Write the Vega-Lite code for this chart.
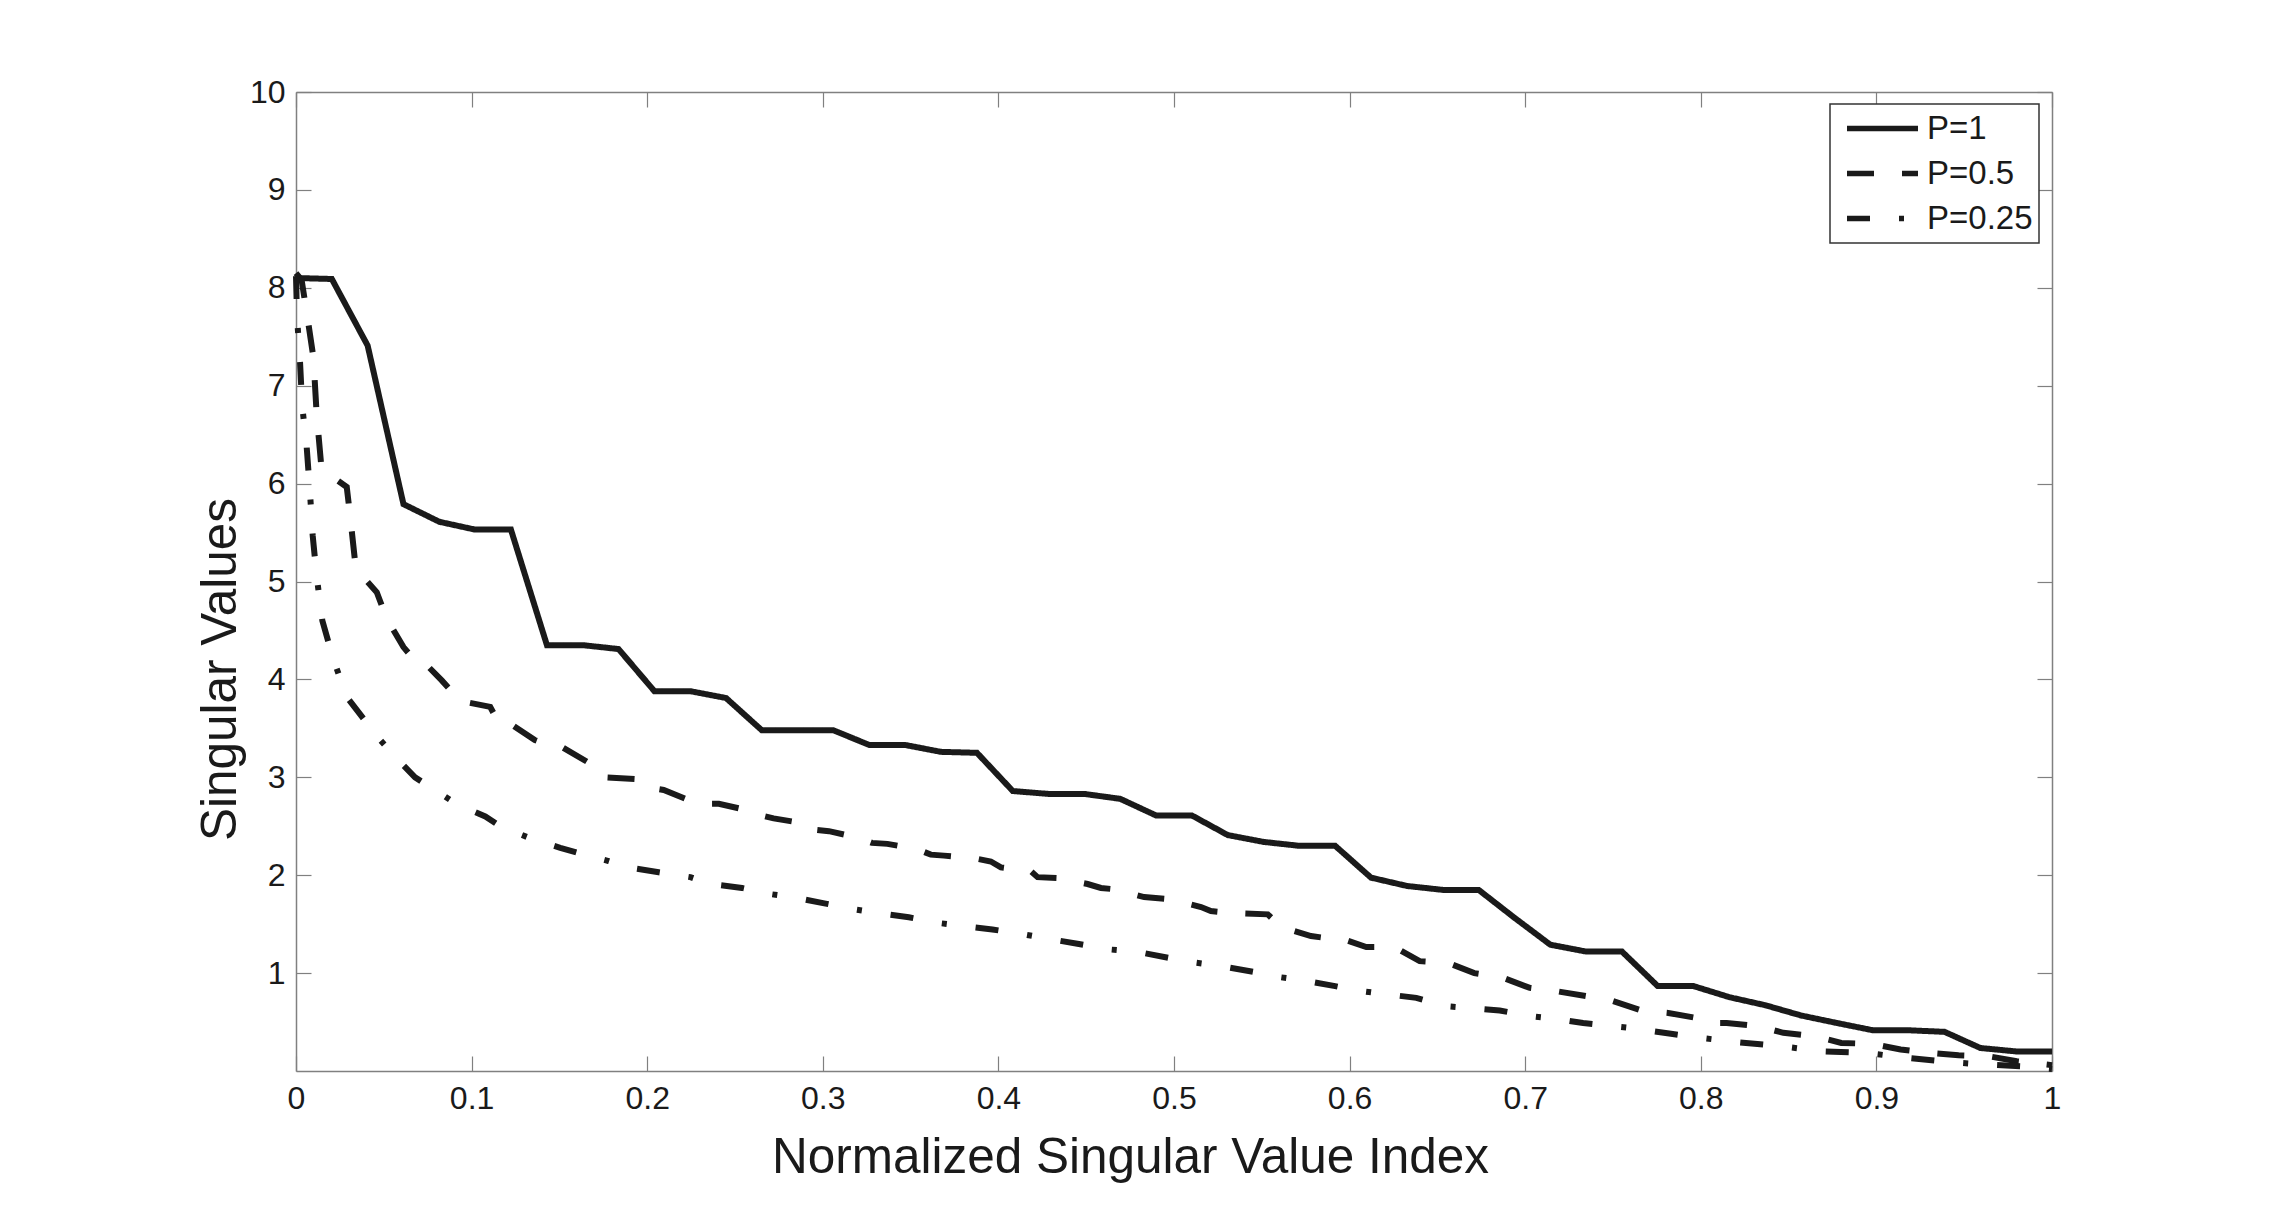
{
  "$schema": "https://vega.github.io/schema/vega-lite/v6.json",
  "width": 1756,
  "height": 979,
  "autosize": {"type": "none"},
  "padding": {"left": 296, "top": 92, "right": 223, "bottom": 138},
  "background": "white",
  "config": {
    "view": {"stroke": null},
    "font": "Liberation Sans",
    "axis": {"grid": false, "labelFont": "Liberation Sans", "titleFont": "Liberation Sans"}
  },
  "datasets": {
    "curves": [
      {"P": "P=1", "x": 0, "y": 8.10},
      {"P": "P=1", "x": 0.0204, "y": 8.09},
      {"P": "P=1", "x": 0.0408, "y": 7.41},
      {"P": "P=1", "x": 0.0612, "y": 5.79},
      {"P": "P=1", "x": 0.0816, "y": 5.61},
      {"P": "P=1", "x": 0.102, "y": 5.53},
      {"P": "P=1", "x": 0.1224, "y": 5.53},
      {"P": "P=1", "x": 0.1429, "y": 4.35},
      {"P": "P=1", "x": 0.1633, "y": 4.35},
      {"P": "P=1", "x": 0.1837, "y": 4.31},
      {"P": "P=1", "x": 0.2041, "y": 3.88},
      {"P": "P=1", "x": 0.2245, "y": 3.88},
      {"P": "P=1", "x": 0.2449, "y": 3.81},
      {"P": "P=1", "x": 0.2653, "y": 3.48},
      {"P": "P=1", "x": 0.2857, "y": 3.48},
      {"P": "P=1", "x": 0.3061, "y": 3.48},
      {"P": "P=1", "x": 0.3265, "y": 3.33},
      {"P": "P=1", "x": 0.3469, "y": 3.33},
      {"P": "P=1", "x": 0.3673, "y": 3.26},
      {"P": "P=1", "x": 0.3878, "y": 3.25},
      {"P": "P=1", "x": 0.4082, "y": 2.86},
      {"P": "P=1", "x": 0.4286, "y": 2.83},
      {"P": "P=1", "x": 0.449, "y": 2.83},
      {"P": "P=1", "x": 0.4694, "y": 2.78},
      {"P": "P=1", "x": 0.4898, "y": 2.61},
      {"P": "P=1", "x": 0.5102, "y": 2.61},
      {"P": "P=1", "x": 0.5306, "y": 2.41},
      {"P": "P=1", "x": 0.551, "y": 2.34},
      {"P": "P=1", "x": 0.5714, "y": 2.30},
      {"P": "P=1", "x": 0.5918, "y": 2.30},
      {"P": "P=1", "x": 0.6122, "y": 1.975},
      {"P": "P=1", "x": 0.6327, "y": 1.89},
      {"P": "P=1", "x": 0.6531, "y": 1.85},
      {"P": "P=1", "x": 0.6735, "y": 1.85},
      {"P": "P=1", "x": 0.6939, "y": 1.565},
      {"P": "P=1", "x": 0.7143, "y": 1.29},
      {"P": "P=1", "x": 0.7347, "y": 1.22},
      {"P": "P=1", "x": 0.7551, "y": 1.22},
      {"P": "P=1", "x": 0.7755, "y": 0.867},
      {"P": "P=1", "x": 0.7959, "y": 0.867},
      {"P": "P=1", "x": 0.8163, "y": 0.754},
      {"P": "P=1", "x": 0.8367, "y": 0.672},
      {"P": "P=1", "x": 0.8571, "y": 0.567},
      {"P": "P=1", "x": 0.8776, "y": 0.49},
      {"P": "P=1", "x": 0.898, "y": 0.416},
      {"P": "P=1", "x": 0.9184, "y": 0.416},
      {"P": "P=1", "x": 0.9388, "y": 0.40},
      {"P": "P=1", "x": 0.9592, "y": 0.235},
      {"P": "P=1", "x": 0.9796, "y": 0.20},
      {"P": "P=1", "x": 1, "y": 0.20},

      {"P": "P=0.5", "x": 0, "y": 8.15},
      {"P": "P=0.5", "x": 0.0032, "y": 8.08},
      {"P": "P=0.5", "x": 0.0065, "y": 7.7},
      {"P": "P=0.5", "x": 0.0099, "y": 7.29},
      {"P": "P=0.5", "x": 0.0118, "y": 6.70},
      {"P": "P=0.5", "x": 0.0146, "y": 6.14},
      {"P": "P=0.5", "x": 0.02, "y": 6.08},
      {"P": "P=0.5", "x": 0.0289, "y": 5.965},
      {"P": "P=0.5", "x": 0.0308, "y": 5.675},
      {"P": "P=0.5", "x": 0.0336, "y": 5.21},
      {"P": "P=0.5", "x": 0.0355, "y": 5.10},
      {"P": "P=0.5", "x": 0.046, "y": 4.89},
      {"P": "P=0.5", "x": 0.0517, "y": 4.62},
      {"P": "P=0.5", "x": 0.0612, "y": 4.33},
      {"P": "P=0.5", "x": 0.0678, "y": 4.19},
      {"P": "P=0.5", "x": 0.0726, "y": 4.18},
      {"P": "P=0.5", "x": 0.083, "y": 3.99},
      {"P": "P=0.5", "x": 0.0935, "y": 3.78},
      {"P": "P=0.5", "x": 0.1106, "y": 3.72},
      {"P": "P=0.5", "x": 0.1153, "y": 3.56},
      {"P": "P=0.5", "x": 0.121, "y": 3.56},
      {"P": "P=0.5", "x": 0.136, "y": 3.38},
      {"P": "P=0.5", "x": 0.1467, "y": 3.31},
      {"P": "P=0.5", "x": 0.1514, "y": 3.31},
      {"P": "P=0.5", "x": 0.1657, "y": 3.16},
      {"P": "P=0.5", "x": 0.1705, "y": 3.135},
      {"P": "P=0.5", "x": 0.176, "y": 3.0},
      {"P": "P=0.5", "x": 0.195, "y": 2.98},
      {"P": "P=0.5", "x": 0.2009, "y": 2.895},
      {"P": "P=0.5", "x": 0.2094, "y": 2.87},
      {"P": "P=0.5", "x": 0.2246, "y": 2.76},
      {"P": "P=0.5", "x": 0.234, "y": 2.73},
      {"P": "P=0.5", "x": 0.2408, "y": 2.73},
      {"P": "P=0.5", "x": 0.2579, "y": 2.66},
      {"P": "P=0.5", "x": 0.2627, "y": 2.62},
      {"P": "P=0.5", "x": 0.272, "y": 2.58},
      {"P": "P=0.5", "x": 0.2892, "y": 2.53},
      {"P": "P=0.5", "x": 0.293, "y": 2.47},
      {"P": "P=0.5", "x": 0.3035, "y": 2.45},
      {"P": "P=0.5", "x": 0.3206, "y": 2.38},
      {"P": "P=0.5", "x": 0.328, "y": 2.33},
      {"P": "P=0.5", "x": 0.3368, "y": 2.32},
      {"P": "P=0.5", "x": 0.3539, "y": 2.265},
      {"P": "P=0.5", "x": 0.3615, "y": 2.21},
      {"P": "P=0.5", "x": 0.369, "y": 2.20},
      {"P": "P=0.5", "x": 0.387, "y": 2.17},
      {"P": "P=0.5", "x": 0.3957, "y": 2.14},
      {"P": "P=0.5", "x": 0.4014, "y": 2.08},
      {"P": "P=0.5", "x": 0.4185, "y": 2.04},
      {"P": "P=0.5", "x": 0.4223, "y": 1.98},
      {"P": "P=0.5", "x": 0.4337, "y": 1.97},
      {"P": "P=0.5", "x": 0.4508, "y": 1.91},
      {"P": "P=0.5", "x": 0.4584, "y": 1.87},
      {"P": "P=0.5", "x": 0.466, "y": 1.856},
      {"P": "P=0.5", "x": 0.483, "y": 1.777},
      {"P": "P=0.5", "x": 0.498, "y": 1.754},
      {"P": "P=0.5", "x": 0.5154, "y": 1.675},
      {"P": "P=0.5", "x": 0.521, "y": 1.634},
      {"P": "P=0.5", "x": 0.5306, "y": 1.617},
      {"P": "P=0.5", "x": 0.5534, "y": 1.60},
      {"P": "P=0.5", "x": 0.561, "y": 1.47},
      {"P": "P=0.5", "x": 0.578, "y": 1.378},
      {"P": "P=0.5", "x": 0.5857, "y": 1.36},
      {"P": "P=0.5", "x": 0.594, "y": 1.36},
      {"P": "P=0.5", "x": 0.6095, "y": 1.266},
      {"P": "P=0.5", "x": 0.6256, "y": 1.266},
      {"P": "P=0.5", "x": 0.6399, "y": 1.122},
      {"P": "P=0.5", "x": 0.656, "y": 1.105},
      {"P": "P=0.5", "x": 0.671, "y": 1.00},
      {"P": "P=0.5", "x": 0.6864, "y": 0.959},
      {"P": "P=0.5", "x": 0.7026, "y": 0.849},
      {"P": "P=0.5", "x": 0.7178, "y": 0.815},
      {"P": "P=0.5", "x": 0.7349, "y": 0.764},
      {"P": "P=0.5", "x": 0.749, "y": 0.72},
      {"P": "P=0.5", "x": 0.7662, "y": 0.618},
      {"P": "P=0.5", "x": 0.7815, "y": 0.593},
      {"P": "P=0.5", "x": 0.7995, "y": 0.536},
      {"P": "P=0.5", "x": 0.8052, "y": 0.49},
      {"P": "P=0.5", "x": 0.8147, "y": 0.49},
      {"P": "P=0.5", "x": 0.8328, "y": 0.457},
      {"P": "P=0.5", "x": 0.847, "y": 0.39},
      {"P": "P=0.5", "x": 0.865, "y": 0.355},
      {"P": "P=0.5", "x": 0.88, "y": 0.287},
      {"P": "P=0.5", "x": 0.898, "y": 0.276},
      {"P": "P=0.5", "x": 0.9138, "y": 0.219},
      {"P": "P=0.5", "x": 0.9306, "y": 0.184},
      {"P": "P=0.5", "x": 0.9468, "y": 0.16},
      {"P": "P=0.5", "x": 0.964, "y": 0.15},
      {"P": "P=0.5", "x": 0.98, "y": 0.10},
      {"P": "P=0.5", "x": 1, "y": 0.06},

      {"P": "P=0.25", "x": 0, "y": 8.12},
      {"P": "P=0.25", "x": 0.0006, "y": 7.7},
      {"P": "P=0.25", "x": 0.0023, "y": 7.24},
      {"P": "P=0.25", "x": 0.0035, "y": 6.8},
      {"P": "P=0.25", "x": 0.0061, "y": 6.37},
      {"P": "P=0.25", "x": 0.008, "y": 5.9},
      {"P": "P=0.25", "x": 0.0095, "y": 5.47},
      {"P": "P=0.25", "x": 0.0118, "y": 5.05},
      {"P": "P=0.25", "x": 0.015, "y": 4.60},
      {"P": "P=0.25", "x": 0.0212, "y": 4.21},
      {"P": "P=0.25", "x": 0.0289, "y": 3.82},
      {"P": "P=0.25", "x": 0.0384, "y": 3.60},
      {"P": "P=0.25", "x": 0.042, "y": 3.55},
      {"P": "P=0.25", "x": 0.046, "y": 3.42},
      {"P": "P=0.25", "x": 0.0564, "y": 3.21},
      {"P": "P=0.25", "x": 0.0678, "y": 3.0},
      {"P": "P=0.25", "x": 0.0764, "y": 2.9},
      {"P": "P=0.25", "x": 0.0912, "y": 2.73},
      {"P": "P=0.25", "x": 0.1078, "y": 2.60},
      {"P": "P=0.25", "x": 0.1173, "y": 2.49},
      {"P": "P=0.25", "x": 0.133, "y": 2.38},
      {"P": "P=0.25", "x": 0.1505, "y": 2.28},
      {"P": "P=0.25", "x": 0.162, "y": 2.22},
      {"P": "P=0.25", "x": 0.178, "y": 2.145},
      {"P": "P=0.25", "x": 0.189, "y": 2.08},
      {"P": "P=0.25", "x": 0.2066, "y": 2.03},
      {"P": "P=0.25", "x": 0.2246, "y": 1.98},
      {"P": "P=0.25", "x": 0.236, "y": 1.91},
      {"P": "P=0.25", "x": 0.254, "y": 1.87},
      {"P": "P=0.25", "x": 0.271, "y": 1.805},
      {"P": "P=0.25", "x": 0.2845, "y": 1.77},
      {"P": "P=0.25", "x": 0.3016, "y": 1.71},
      {"P": "P=0.25", "x": 0.3187, "y": 1.65},
      {"P": "P=0.25", "x": 0.3368, "y": 1.60},
      {"P": "P=0.25", "x": 0.349, "y": 1.57},
      {"P": "P=0.25", "x": 0.3668, "y": 1.51},
      {"P": "P=0.25", "x": 0.385, "y": 1.47},
      {"P": "P=0.25", "x": 0.3966, "y": 1.446},
      {"P": "P=0.25", "x": 0.4147, "y": 1.395},
      {"P": "P=0.25", "x": 0.4337, "y": 1.334},
      {"P": "P=0.25", "x": 0.445, "y": 1.30},
      {"P": "P=0.25", "x": 0.463, "y": 1.242},
      {"P": "P=0.25", "x": 0.479, "y": 1.218},
      {"P": "P=0.25", "x": 0.497, "y": 1.156},
      {"P": "P=0.25", "x": 0.5087, "y": 1.115},
      {"P": "P=0.25", "x": 0.5268, "y": 1.071},
      {"P": "P=0.25", "x": 0.545, "y": 1.013},
      {"P": "P=0.25", "x": 0.556, "y": 0.969},
      {"P": "P=0.25", "x": 0.574, "y": 0.925},
      {"P": "P=0.25", "x": 0.5918, "y": 0.867},
      {"P": "P=0.25", "x": 0.6038, "y": 0.823},
      {"P": "P=0.25", "x": 0.6218, "y": 0.782},
      {"P": "P=0.25", "x": 0.638, "y": 0.747},
      {"P": "P=0.25", "x": 0.655, "y": 0.662},
      {"P": "P=0.25", "x": 0.6674, "y": 0.645},
      {"P": "P=0.25", "x": 0.6855, "y": 0.618},
      {"P": "P=0.25", "x": 0.7035, "y": 0.56},
      {"P": "P=0.25", "x": 0.716, "y": 0.536},
      {"P": "P=0.25", "x": 0.733, "y": 0.49},
      {"P": "P=0.25", "x": 0.7594, "y": 0.44},
      {"P": "P=0.25", "x": 0.783, "y": 0.38},
      {"P": "P=0.25", "x": 0.7967, "y": 0.345},
      {"P": "P=0.25", "x": 0.8214, "y": 0.294},
      {"P": "P=0.25", "x": 0.8457, "y": 0.253},
      {"P": "P=0.25", "x": 0.87, "y": 0.20},
      {"P": "P=0.25", "x": 0.8945, "y": 0.184},
      {"P": "P=0.25", "x": 0.9183, "y": 0.133},
      {"P": "P=0.25", "x": 0.943, "y": 0.089},
      {"P": "P=0.25", "x": 0.957, "y": 0.072},
      {"P": "P=0.25", "x": 0.982, "y": 0.048},
      {"P": "P=0.25", "x": 1, "y": 0.02}
    ]
  },
  "layer": [
    {
      "data": {"name": "curves"},
      "mark": {"type": "line", "strokeWidth": 6, "color": "#1a1a1a", "strokeCap": "butt", "strokeJoin": "miter"},
      "encoding": {
        "x": {
          "field": "x", "type": "quantitative",
          "scale": {"domain": [0, 1], "nice": false, "zero": false},
          "axis": {
            "orient": "bottom",
            "values": [0, 0.1, 0.2, 0.3, 0.4, 0.5, 0.6, 0.7, 0.8, 0.9, 1],
            "format": ".1~f",
            "labelFontSize": 32, "labelColor": "#1a1a1a", "labelFlush": false, "labelOverlap": false,
            "labelPadding": 27,
            "tickSize": -15, "tickColor": "#808080", "tickWidth": 1.2,
            "domainColor": "#808080", "domainWidth": 1.5,
            "title": "Normalized Singular Value Index",
            "titleFontSize": 49.5, "titleFontWeight": "normal", "titleColor": "#1a1a1a",
            "titlePadding": 19, "titleX": 834
          }
        },
        "y": {
          "field": "y", "type": "quantitative",
          "scale": {"domain": [0, 10], "nice": false, "zero": false},
          "axis": {
            "orient": "left",
            "values": [1, 2, 3, 4, 5, 6, 7, 8, 9, 10],
            "format": "d",
            "labelFontSize": 32, "labelColor": "#1a1a1a", "labelOverlap": false,
            "labelPadding": 26,
            "tickSize": -15, "tickColor": "#808080", "tickWidth": 1.2,
            "domainColor": "#808080", "domainWidth": 1.5,
            "title": "Singular Values",
            "titleFontSize": 49.5, "titleFontWeight": "normal", "titleColor": "#1a1a1a",
            "titlePadding": 4, "titleY": 577
          }
        },
        "strokeDash": {
          "field": "P", "type": "nominal",
          "scale": {"domain": ["P=1", "P=0.5", "P=0.25"], "range": [[1, 0], [27, 28], [23, 29, 5, 29]]},
          "legend": {
            "orient": "none", "legendX": 1534, "legendY": 12,
            "title": null,
            "symbolType": "stroke", "symbolSize": 5041, "symbolStrokeWidth": 5.5,
            "symbolStrokeColor": "#1a1a1a", "symbolOffset": 8,
            "labelFontSize": 33, "labelColor": "#1a1a1a", "labelFont": "Liberation Sans", "labelOffset": 6,
            "strokeColor": "#333333", "fillColor": "white",
            "padding": 6, "clipHeight": 37, "rowPadding": 8,
            "encode": {
              "symbols": {
                "update": {
                  "strokeDash": {"signal": "datum.value === 'P=1' ? [1, 0] : datum.value === 'P=0.5' ? [19, 16] : [3, 12, 22, 14, 3, 30]"}
                }
              },
              "legend": {"update": {"strokeWidth": {"value": 1.5}}}
            }
          }
        }
      }
    },
    {
      "data": {"name": "curves"},
      "mark": {"type": "point", "opacity": 0},
      "encoding": {
        "x": {
          "field": "x", "type": "quantitative",
          "axis": {
            "orient": "top", "labels": false, "title": null,
            "values": [0, 0.1, 0.2, 0.3, 0.4, 0.5, 0.6, 0.7, 0.8, 0.9, 1],
            "tickSize": -15, "tickColor": "#808080", "tickWidth": 1.2,
            "domainColor": "#808080", "domainWidth": 1.5
          }
        },
        "y": {
          "field": "y", "type": "quantitative",
          "axis": {
            "orient": "right", "labels": false, "title": null,
            "values": [1, 2, 3, 4, 5, 6, 7, 8, 9, 10],
            "tickSize": -15, "tickColor": "#808080", "tickWidth": 1.2,
            "domainColor": "#808080", "domainWidth": 1.5
          }
        }
      }
    }
  ],
  "resolve": {"axis": {"x": "independent", "y": "independent"}}
}
